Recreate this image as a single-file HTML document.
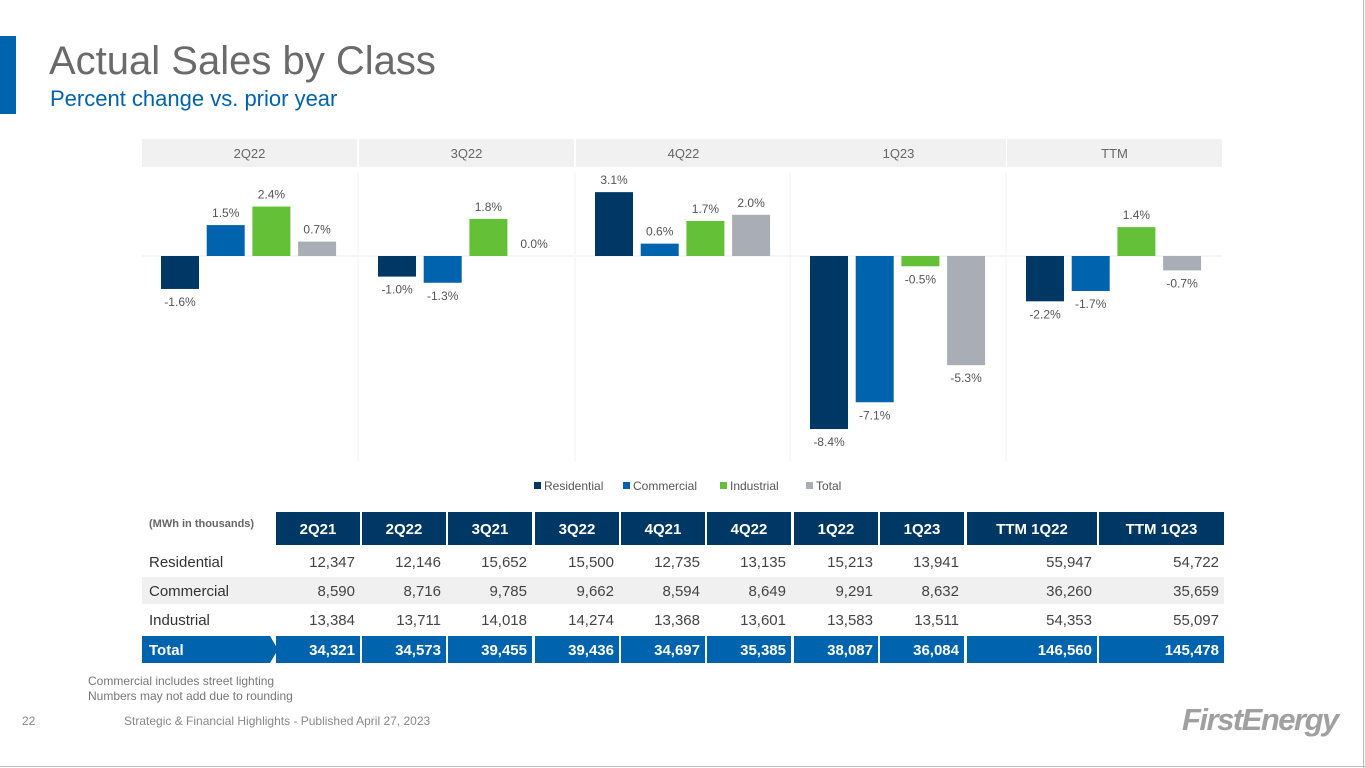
<!DOCTYPE html>
<html><head><meta charset="utf-8">
<style>
body{margin:0;width:1365px;height:768px;background:#fff;font-family:"Liberation Sans",Arial,sans-serif;position:relative;overflow:hidden}
.abs{position:absolute}
</style></head><body>
<div class="abs" style="left:0;top:36px;width:16px;height:78px;background:#0063ad"></div>
<div class="abs" style="left:49px;top:39px;font-size:40px;color:#6a6a6a">Actual Sales by Class</div>
<div class="abs" style="left:50px;top:86px;font-size:22px;color:#0063ad">Percent change vs. prior year</div>
<svg class="abs" style="left:0;top:0" width="1365" height="768" id="chart"></svg>
<div class="abs" style="left:88px;top:674px;font-size:12px;line-height:15px;color:#777">Commercial includes street lighting<br>Numbers may not add due to rounding</div>
<div class="abs" style="left:22px;top:714px;font-size:12px;color:#888">22</div>
<div class="abs" style="left:124px;top:714px;font-size:12px;color:#888">Strategic &amp; Financial Highlights - Published April 27, 2023</div>
<div class="abs" style="left:1182px;top:702px;font-size:31px;font-style:italic;font-weight:bold;color:#a0a0a0;letter-spacing:-1.5px">FirstEnergy</div>
<div class="abs" style="left:0;top:766px;width:1365px;height:1px;background:#bbb"></div>
<div class="abs" style="left:1363px;top:0;width:1px;height:768px;background:#bbb"></div>
<script>
const groups=["2Q22","3Q22","4Q22","1Q23","TTM"];
const seriesNames=["Residential","Commercial","Industrial","Total"];
const residential=[-1.6,-1.0,3.1,-8.4,-2.2];
const commercial=[1.5,-1.3,0.6,-7.1,-1.7];
const industrial=[2.4,1.8,1.7,-0.5,1.4];
const total=[0.7,0.0,2.0,-5.3,-0.7];
const colors=["#003865","#0063ad","#64c037","#a9adb5"];
const svg=document.getElementById('chart');
const NS="http://www.w3.org/2000/svg";
function mk(t,a){const e=document.createElementNS(NS,t);for(const k in a)e.setAttribute(k,a[k]);svg.appendChild(e);return e;}
const y0=256,k=20.6;
function yS(v){return y0-v*k;}
const panelX=[142,359,576,791,1007],panelW=215;
const series=[residential,commercial,industrial,total];
groups.forEach((g,i)=>{
 const px=panelX[i];
 const h=mk('rect',{x:px,y:139,width:panelW,height:28,fill:'#f1f1f1'});
 
 
 const t=mk('text',{x:px+panelW/2,y:158,'text-anchor':'middle','font-size':13,fill:'#666'});t.textContent=g;
 
 
 if(i>0){mk('line',{x1:px-1,y1:172,x2:px-1,y2:462,stroke:'#f0f0f0'});}
 mk('line',{x1:px,y1:y0,x2:px+panelW,y2:y0,stroke:'#eeeeee'});
 series.forEach((s,j)=>{
  const v=s[i];const bx=px+19+j*45.7;
  const top=Math.min(yS(v),y0),hh=Math.abs(yS(v)-y0);
  const r=mk('rect',{x:bx,y:top,width:38,height:hh,fill:colors[j]});
  
  
  const ly=v>=0?yS(v)-8:yS(v)+17;
  const lt=mk('text',{x:bx+19,y:ly,'text-anchor':'middle','font-size':12,fill:'#555'});
  lt.textContent=v.toFixed(1)+'%';
  
  
 });
});
let lx=534;
seriesNames.forEach((n,j)=>{
 const sw=mk('rect',{x:lx,y:482,width:7,height:7,fill:colors[j]});
 
 
 const t=mk('text',{x:lx+10,y:490,'font-size':12,fill:'#555'});t.textContent=n;
 
 
 lx+=[89,97,86,0][j];
});
const cols=["2Q21","2Q22","3Q21","3Q22","4Q21","4Q22","1Q22","1Q23","TTM 1Q22","TTM 1Q23"];
const rowNames=["Residential","Commercial","Industrial","Total"];
const rowRes=["12,347","12,146","15,652","15,500","12,735","13,135","15,213","13,941","55,947","54,722"];
const rowCom=["8,590","8,716","9,785","9,662","8,594","8,649","9,291","8,632","36,260","35,659"];
const rowInd=["13,384","13,711","14,018","14,274","13,368","13,601","13,583","13,511","54,353","55,097"];
const rowTot=["34,321","34,573","39,455","39,436","34,697","35,385","38,087","36,084","146,560","145,478"];
const rows=[rowRes,rowCom,rowInd,rowTot];
const colX=[276,362,448,535,621,707,794,880,967,1099],colW=[84,84,84,84,84,84,84,84,130,125];
const lbl=mk('text',{x:149,y:527,'font-size':11,'font-weight':'bold',fill:'#666'});lbl.textContent='(MWh in thousands)';


cols.forEach((c,i)=>{
 const r=mk('rect',{x:colX[i],y:512,width:colW[i],height:33,fill:'#003865'});
 
 
 const t=mk('text',{x:colX[i]+colW[i]/2,y:534,'text-anchor':'middle','font-size':15,'font-weight':'bold',fill:'#fff'});t.textContent=c;
 
 
});
const rowY=[548,577,606,636];
rows.forEach((row,ri)=>{
 const y=rowY[ri];
 if(ri===1){mk('rect',{x:142,y:y,width:1082,height:27,fill:'#f0f0f0'});}
 if(ri===3){
  const p=mk('path',{d:`M142 ${y}H270L278 ${y+13.5}L270 ${y+27}H142Z`,fill:'#0063ad'});
  
  
  cols.forEach((c,i)=>mk('rect',{x:colX[i],y:y,width:colW[i],height:27,fill:'#0063ad'}));
 }
 const tot=ri===3;
 const lt=mk('text',{x:149,y:y+19,'font-size':15,'font-weight':tot?'bold':'normal',fill:tot?'#fff':'#333'});lt.textContent=rowNames[ri];
 
 
 row.forEach((v,i)=>{
  const t=mk('text',{x:colX[i]+colW[i]-5,y:y+19,'text-anchor':'end','font-size':15,'font-weight':tot?'bold':'normal',fill:tot?'#fff':'#444'});t.textContent=v;
  
  
 });
});
</script>
</body></html>
